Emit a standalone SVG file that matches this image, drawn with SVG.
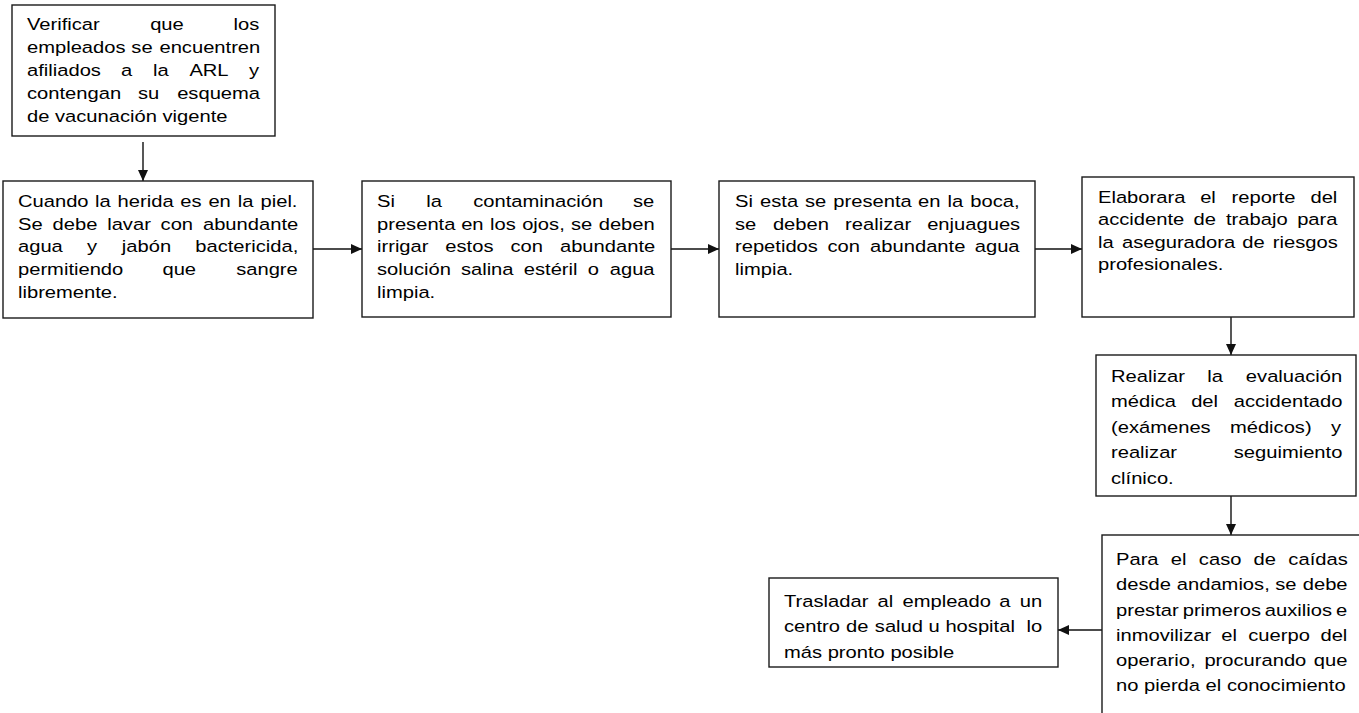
<svg xmlns="http://www.w3.org/2000/svg" width="1359" height="713" viewBox="0 0 1359 713">
<style>
.box{fill:#fff;stroke:#1a1a1a;stroke-width:1.4}
.t{font-family:"Liberation Sans",Arial,sans-serif;font-size:16.8px;fill:#000}
.c{stroke:#111;stroke-width:1.4;fill:none;marker-end:url(#ah)}
</style>
<defs>
<marker id="ah" markerUnits="userSpaceOnUse" markerWidth="12" markerHeight="10" refX="11" refY="5" orient="auto">
<path d="M0,0 L11,5 L0,10 z" fill="#111"/>
</marker>
</defs>
<rect width="1359" height="713" fill="#fff"/>
<g id="connectors">
<line class="c" x1="143" y1="142" x2="143" y2="181"/>
<line class="c" x1="313" y1="249" x2="362" y2="249"/>
<line class="c" x1="671" y1="249" x2="719" y2="249"/>
<line class="c" x1="1035" y1="249" x2="1082" y2="249"/>
<line class="c" x1="1231" y1="317" x2="1231" y2="355"/>
<line class="c" x1="1231" y1="496" x2="1231" y2="535"/>
<line class="c" x1="1102" y1="630" x2="1058" y2="630"/>
</g>
<g id="n1">
<rect class="box" x="12" y="5" width="263" height="131"/>
<g class="t" transform="scale(1.2 1)">
<text y="30.5"><tspan x="22.5">Verificar</tspan><tspan x="125.14">que</tspan><tspan x="194.64">los</tspan></text>
<text y="53.4"><tspan x="22.5">empleados</tspan><tspan x="109.48">se</tspan><tspan x="132.87">encuentren</tspan></text>
<text y="76.3"><tspan x="22.5">afiliados</tspan><tspan x="100.78">a</tspan><tspan x="127.46">la</tspan><tspan x="157.82">ARL</tspan><tspan x="207.54">y</tspan></text>
<text y="99.2"><tspan x="22.5">contengan</tspan><tspan x="115.03">su</tspan><tspan x="147.63">esquema</tspan></text>
<text y="122.1" x="22.5">de vacunación vigente</text>
</g>
</g>
<g id="n2">
<rect class="box" x="3" y="181" width="310" height="137"/>
<g class="t" transform="scale(1.2 1)">
<text y="207"><tspan x="15">Cuando</tspan><tspan x="79.11">la</tspan><tspan x="98.03">herida</tspan><tspan x="150.15">es</tspan><tspan x="173.68">en</tspan><tspan x="198.16">la</tspan><tspan x="217.08">piel.</tspan></text>
<text y="229.8"><tspan x="15">Se</tspan><tspan x="43.86">debe</tspan><tspan x="89.32">lavar</tspan><tspan x="133.83">con</tspan><tspan x="169.13">abundante</tspan></text>
<text y="252.5"><tspan x="15">agua</tspan><tspan x="72.54">y</tspan><tspan x="101.49">jabón</tspan><tspan x="162.71">bactericida,</tspan></text>
<text y="275.3"><tspan x="15">permitiendo</tspan><tspan x="135.39">que</tspan><tspan x="196.81">sangre</tspan></text>
<text y="298" x="15">libremente.</text>
</g>
</g>
<g id="n3">
<rect class="box" x="362" y="181" width="309" height="136"/>
<g class="t" transform="scale(1.2 1)">
<text y="207"><tspan x="314.17">Si</tspan><tspan x="355.17">la</tspan><tspan x="394.33">contaminación</tspan><tspan x="527.49">se</tspan></text>
<text y="229.8"><tspan x="314.17">presenta</tspan><tspan x="384.3">en</tspan><tspan x="408.35">los</tspan><tspan x="435.15">ojos,</tspan><tspan x="475.78">se</tspan><tspan x="498.9">deben</tspan></text>
<text y="252.5"><tspan x="314.17">irrigar</tspan><tspan x="371.11">estos</tspan><tspan x="425.32">con</tspan><tspan x="466.63">abundante</tspan></text>
<text y="275.3"><tspan x="314.17">solución</tspan><tspan x="384.08">salina</tspan><tspan x="436.49">estéril</tspan><tspan x="489.81">o</tspan><tspan x="508.12">agua</tspan></text>
<text y="298" x="314.17">limpia.</text>
</g>
</g>
<g id="n4">
<rect class="box" x="719" y="181" width="316" height="136"/>
<g class="t" transform="scale(1.2 1)">
<text y="207"><tspan x="612.5">Si</tspan><tspan x="633.35">esta</tspan><tspan x="670.8">se</tspan><tspan x="694.42">presenta</tspan><tspan x="765.05">en</tspan><tspan x="789.6">la</tspan><tspan x="808.6">boca,</tspan></text>
<text y="229.8"><tspan x="612.5">se</tspan><tspan x="644.07">deben</tspan><tspan x="704.23">realizar</tspan><tspan x="772.65">enjuagues</tspan></text>
<text y="252.5"><tspan x="612.5">repetidos</tspan><tspan x="689.53">con</tspan><tspan x="725.09">abundante</tspan><tspan x="812.28">agua</tspan></text>
<text y="275.3" x="612.5">limpia.</text>
</g>
</g>
<g id="n5">
<rect class="box" x="1082" y="177" width="272" height="140"/>
<g class="t" transform="scale(1.2 1)">
<text y="203"><tspan x="915">Elaborara</tspan><tspan x="1000.13">el</tspan><tspan x="1026.28">reporte</tspan><tspan x="1092.04">del</tspan></text>
<text y="225.5"><tspan x="915">accidente</tspan><tspan x="994.6">de</tspan><tspan x="1021.67">trabajo</tspan><tspan x="1080.98">para</tspan></text>
<text y="248"><tspan x="915">la</tspan><tspan x="935.02">aseguradora</tspan><tspan x="1035.15">de</tspan><tspan x="1060.72">riesgos</tspan></text>
<text y="270.5" x="915">profesionales.</text>
</g>
</g>
<g id="n6">
<rect class="box" x="1096" y="355" width="260" height="141"/>
<g class="t" transform="scale(1.2 1)">
<text y="382"><tspan x="925.83">Realizar</tspan><tspan x="1005.99">la</tspan><tspan x="1038.23">evaluación</tspan></text>
<text y="407.4"><tspan x="925.83">médica</tspan><tspan x="992.62">del</tspan><tspan x="1028.08">accidentado</tspan></text>
<text y="432.8"><tspan x="925.83">(exámenes</tspan><tspan x="1024.91">médicos)</tspan><tspan x="1109.21">y</tspan></text>
<text y="458.2"><tspan x="925.83">realizar</tspan><tspan x="1028.1">seguimiento</tspan></text>
<text y="483.6" x="925.83">clínico.</text>
</g>
</g>
<g id="n7">
<rect class="box" x="1102" y="535" width="300" height="250"/>
<g class="t" transform="scale(1.2 1)">
<text y="565"><tspan x="930">Para</tspan><tspan x="975.59">el</tspan><tspan x="999.06">caso</tspan><tspan x="1044.65">de</tspan><tspan x="1073.64">caídas</tspan></text>
<text y="590.3"><tspan x="930">desde</tspan><tspan x="980.65">andamios,</tspan><tspan x="1062.63">se</tspan><tspan x="1085.62">debe</tspan></text>
<text y="615.6"><tspan x="930">prestar</tspan><tspan x="985.58">primeros</tspan><tspan x="1054.03">auxilios</tspan><tspan x="1113.28">e</tspan></text>
<text y="640.9"><tspan x="930">inmovilizar</tspan><tspan x="1017.8">el</tspan><tspan x="1040.19">cuerpo</tspan><tspan x="1100.38">del</tspan></text>
<text y="666.2"><tspan x="930">operario,</tspan><tspan x="1003.67">procurando</tspan><tspan x="1094.84">que</tspan></text>
<text y="691.5" x="930">no pierda el conocimiento</text>
</g>
</g>
<g id="n8">
<rect class="box" x="769" y="578" width="289" height="89"/>
<g class="t" transform="scale(1.2 1)">
<text y="607"><tspan x="653.33">Trasladar</tspan><tspan x="731.27">al</tspan><tspan x="752.07">empleado</tspan><tspan x="832.78">a</tspan><tspan x="849.89">un</tspan></text>
<text y="632.5"><tspan x="653.33">centro</tspan><tspan x="705">de</tspan><tspan x="729.03">salud u hospital</tspan><tspan x="855.43">lo</tspan></text>
<text y="658" x="653.33">más pronto posible</text>
</g>
</g>
</svg>
